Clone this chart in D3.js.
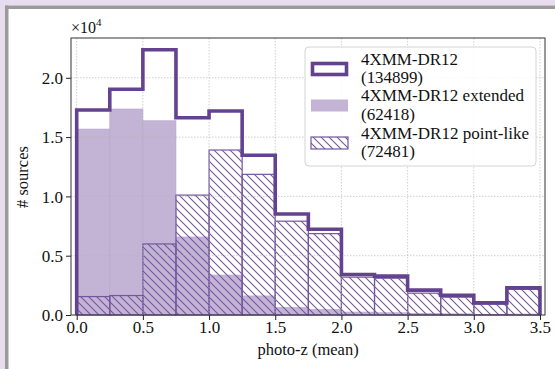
<!DOCTYPE html>
<html>
<head>
<meta charset="utf-8">
<script src="https://cdn.jsdelivr.net/npm/d3@7"></script>
<style>
  html, body { margin: 0; padding: 0; background: #e7ddee; }
  svg { display: block; }
</style>
</head>
<body>
<svg id="chart" width="555" height="369"></svg>
<script>
// ---- data ----
const binEdges = [0, 0.25, 0.5, 0.75, 1.0, 1.25, 1.5, 1.75, 2.0, 2.25, 2.5, 2.75, 3.0, 3.25, 3.5];
const totalCounts = [17290, 19040, 22370, 16630, 17200, 13475, 8520, 7230, 3410, 3280, 2095, 1670, 1020, 2290];
const extendedCounts = [15680, 17370, 16380, 6580, 3370, 1610, 650, 470, 250, 190, 140, 100, 60, 80];
const pointCounts = [1555, 1640, 5990, 10110, 13910, 11860, 7910, 6860, 3190, 3100, 1840, 1500, 930, 2175];
const xTicks = [0, 0.5, 1.0, 1.5, 2.0, 2.5, 3.0, 3.5];
const yTicks = [0, 5000, 10000, 15000, 20000];
const legendLabels = [["4XMM-DR12", "(134899)"], ["4XMM-DR12 extended", "(62418)"], ["4XMM-DR12 point-like", "(72481)"]];
const legendWidths = [[97, 62], [163, 54], [168, 54]];

const FONT = "'Liberation Serif', Tinos, 'Times New Roman', serif";
const outlineColor = "#634390";
const fillColor = "#c3b3d5";
const hatchColor = "#7456a0";

const svg = d3.select("#chart");

svg.append("rect").attr("x", 0).attr("y", 0).attr("width", 555).attr("height", 369).attr("fill", "#e7ddee");
svg.append("rect").attr("x", 5).attr("y", 5.5).attr("width", 560).attr("height", 380).attr("fill", "#ffffff");
svg.append("rect").attr("x", 5).attr("y", 5.5).attr("width", 560).attr("height", 3.5).attr("fill", "#9a9a9a");
svg.append("rect").attr("x", 5).attr("y", 5.5).attr("width", 3.5).attr("height", 380).attr("fill", "#9a9a9a");

const L = 71, R = 545, T = 38, B = 315;
const x = d3.scaleLinear().domain([-0.043, 3.538]).range([L, R]);
const y = d3.scaleLinear().domain([0, 23356]).range([B, T]);

const defs = svg.append("defs");
const pat = defs.append("pattern").attr("id", "hatch").attr("patternUnits", "userSpaceOnUse")
  .attr("width", 8).attr("height", 8);
pat.append("path").attr("d", "M-2,-2 L10,10 M-2,6 L2,10 M6,-2 L10,2")
  .attr("stroke", hatchColor).attr("stroke-width", 1.1).attr("fill", "none");
const clip = defs.append("clipPath").attr("id", "plotclip");
clip.append("rect").attr("x", L).attr("y", T).attr("width", R - L).attr("height", B - T);

const g = svg.append("g");

// extended filled bars
g.append("g").selectAll("rect").data(extendedCounts).join("rect")
  .attr("x", (d, i) => x(binEdges[i]))
  .attr("width", (d, i) => x(binEdges[i + 1]) - x(binEdges[i]))
  .attr("y", d => y(d))
  .attr("height", d => y(0) - y(d))
  .attr("fill", fillColor)
  .attr("stroke", "#b8a6cf").attr("stroke-width", 0.6);

// point-like hatched bars
g.append("g").selectAll("rect").data(pointCounts).join("rect")
  .attr("x", (d, i) => x(binEdges[i]))
  .attr("width", (d, i) => x(binEdges[i + 1]) - x(binEdges[i]))
  .attr("y", d => y(d))
  .attr("height", d => y(0) - y(d))
  .attr("fill", "url(#hatch)")
  .attr("stroke", hatchColor).attr("stroke-width", 1.2);

// grid
const grid = g.append("g").attr("stroke", "#b8b8b8").attr("stroke-width", 0.8)
  .attr("stroke-dasharray", "1.5,1.5").attr("opacity", 0.8);
grid.selectAll(".gx").data(xTicks).join("line")
  .attr("x1", d => x(d)).attr("x2", d => x(d)).attr("y1", T).attr("y2", B);
grid.selectAll(".gy").data(yTicks.slice(1)).join("line")
  .attr("x1", L).attr("x2", R).attr("y1", d => y(d)).attr("y2", d => y(d));

// total step outline
const stepPts = [[x(binEdges[0]), y(0)]];
totalCounts.forEach((v, i) => {
  stepPts.push([x(binEdges[i]), y(v)]);
  stepPts.push([x(binEdges[i + 1]), y(v)]);
});
stepPts.push([x(binEdges[binEdges.length - 1]), y(0)]);
g.append("path").attr("d", d3.line()(stepPts))
  .attr("fill", "none").attr("stroke", outlineColor).attr("stroke-width", 3.6)
  .attr("stroke-linejoin", "miter").attr("clip-path", "url(#plotclip)");

// axes
const xAxis = d3.axisBottom(x).tickValues(xTicks).tickFormat(d3.format(".1f")).tickSize(5).tickPadding(1);
const yAxis = d3.axisLeft(y).tickValues(yTicks).tickFormat(d => (d / 10000).toFixed(1)).tickSize(5).tickPadding(3);
const gx = svg.append("g").attr("transform", `translate(0,${B})`).call(xAxis);
const gy = svg.append("g").attr("transform", `translate(${L},0)`).call(yAxis);
[gx, gy].forEach(a => {
  a.attr("font-family", FONT).attr("font-size", 17);
  a.select(".domain").remove();
  a.selectAll("line").attr("stroke", "#222").attr("stroke-width", 1);
  a.selectAll("text").attr("fill", "#111").attr("font-family", FONT).attr("font-size", 17);
});
gy.selectAll("text").attr("dy", "0.34em");
svg.append("rect").attr("x", L).attr("y", T).attr("width", R - L).attr("height", B - T)
  .attr("fill", "none").attr("stroke", "#333").attr("stroke-width", 1);

// offset text
const off = svg.append("text").attr("x", 71).attr("y", 33).attr("font-family", FONT).attr("font-size", 16).attr("fill", "#111");
off.append("tspan").text("\u00d710");
off.append("tspan").attr("dy", -7).attr("font-size", 11).text("4");

// axis labels
svg.append("text").attr("x", 308).attr("y", 355).attr("text-anchor", "middle")
  .attr("font-family", FONT).attr("font-size", 16.5).attr("fill", "#111").text("photo-z (mean)");
svg.append("text").attr("transform", "translate(28,177) rotate(-90)").attr("text-anchor", "middle")
  .attr("font-family", FONT).attr("font-size", 16.5).attr("fill", "#111").text("# sources");

// legend
svg.append("rect").attr("x", 305).attr("y", 47).attr("width", 231).attr("height", 119).attr("rx", 4)
  .attr("fill", "#fff").attr("fill-opacity", 0.85).attr("stroke", "#d4d4d4").attr("stroke-width", 1);
const centers = [69, 105.5, 143];
svg.append("rect").attr("x", 312.5).attr("y", centers[0] - 5.5).attr("width", 34).attr("height", 11)
  .attr("fill", "none").attr("stroke", outlineColor).attr("stroke-width", 3.6);
svg.append("rect").attr("x", 311).attr("y", centers[1] - 6).attr("width", 37).attr("height", 12)
  .attr("fill", fillColor);
svg.append("rect").attr("x", 311).attr("y", centers[2] - 6).attr("width", 37).attr("height", 12)
  .attr("fill", "url(#hatch)").attr("stroke", hatchColor).attr("stroke-width", 1.2);
legendLabels.forEach((lines, i) => {
  lines.forEach((t, j) => {
    svg.append("text").attr("x", 361).attr("y", centers[i] - 4.5 + j * 18.5)
      .attr("font-family", FONT).attr("font-size", 17).attr("fill", "#111")
      .attr("textLength", legendWidths[i][j]).attr("lengthAdjust", "spacingAndGlyphs")
      .text(t);
  });
});
</script>
</body>
</html>
